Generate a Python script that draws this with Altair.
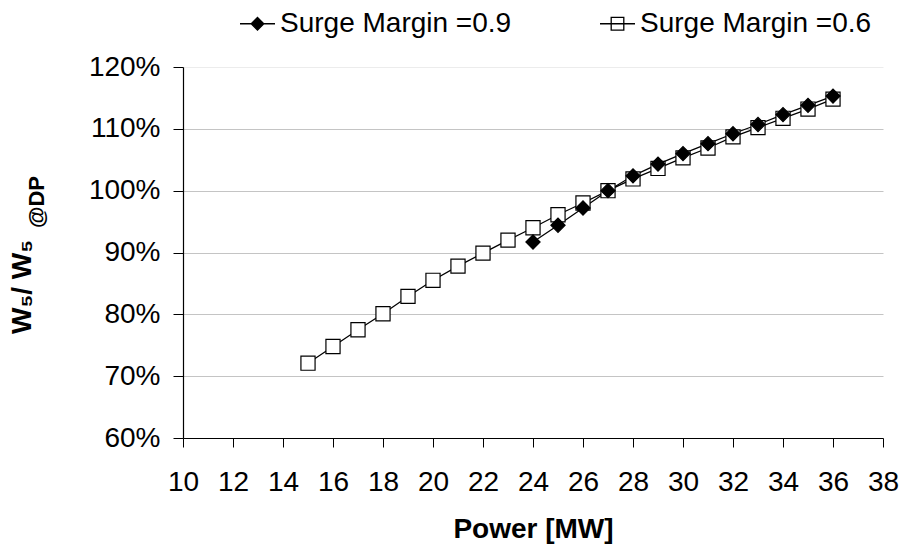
import altair as alt
import pandas as pd

S09 = "Surge Margin =0.9"
S06 = "Surge Margin =0.6"

power_06 = [15, 16, 17, 18, 19, 20, 21, 22, 23, 24, 25, 26, 27, 28, 29, 30, 31, 32, 33, 34, 35, 36]
ratio_06 = [72.1, 74.8, 77.5, 80.1, 82.9, 85.5, 87.8, 89.9, 92.0, 94.0, 96.1, 98.0, 100.0,
            101.9, 103.6, 105.3, 106.9, 108.7, 110.2, 111.7, 113.2, 114.8]

power_09 = [24, 25, 26, 27, 28, 29, 30, 31, 32, 33, 34, 35, 36]
ratio_09 = [91.7, 94.4, 97.2, 100.0, 102.4, 104.3, 106.0, 107.6, 109.2, 110.7, 112.3, 113.8, 115.3]

x_ticks = list(range(10, 39, 2))
y_ticks = list(range(60, 121, 10))

y_title_main = ["W₅/ W₅"]
y_title_sub = ["@DP"]

rows = [{"power": p, "ratio": r, "series": S06, "leg": S06} for p, r in zip(power_06, ratio_06)]
rows += [{"power": p, "ratio": r, "series": S09, "leg": S09} for p, r in zip(power_09, ratio_09)]
df = pd.DataFrame(rows)

FONT = "Liberation Sans"
domain = [S09, S06]

x_enc = alt.X("power:Q", scale=alt.Scale(domain=[10, 38], nice=False, zero=False),
              axis=alt.Axis(values=x_ticks, title="Power [MW]", grid=False, labelFlush=False,
                            labelFontSize=28, titleFontSize=28, titleFontWeight="bold",
                            labelPadding=21, titlePadding=19, tickSize=9))
y_enc = alt.Y("ratio:Q", scale=alt.Scale(domain=[60, 120], nice=False, zero=False),
              axis=alt.Axis(values=y_ticks, title=None, grid=True, labelFlush=False,
                            labelExpr="datum.value + '%'",
                            gridColor={"condition": {"test": "datum.value == 120", "value": "#ececec"},
                                       "value": "#c4c4c4"},
                            labelFontSize=28, labelPadding=13, tickSize=10))

base = alt.Chart(df)

lines = base.mark_line(color="black", strokeWidth=1.25).encode(
    x=x_enc, y=y_enc, detail="series:N"
)

points = base.mark_point(filled=True, size=200, stroke="black", strokeWidth=1.2, opacity=1).encode(
    x=x_enc, y=y_enc,
    shape=alt.Shape("series:N", scale=alt.Scale(domain=domain, range=["diamond", "square"]), legend=None),
    fill=alt.Fill("series:N", scale=alt.Scale(domain=domain, range=["black", "white"]), legend=None),
    order=alt.Order("series:N", sort="ascending"),
)

path_d = "M-1,0H1M0,-0.36L0.36,0L0,0.36L-0.36,0Z"
path_s = "M-1,0H1M-0.36,-0.36H0.36V0.36H-0.36Z"
leg = alt.Legend(title=None, orient="none", legendX=56, legendY=-62, direction="horizontal",
                 labelFontSize=28, labelFont=FONT, labelColor="black", symbolSize=1225,
                 symbolStrokeWidth=1.3, columnPadding=85, labelOffset=4, labelLimit=0,
                 symbolOpacity=1, padding=0)

legend_layer = base.transform_filter("false").mark_point(
    filled=True, size=1225, strokeWidth=1.3
).encode(
    x=x_enc, y=y_enc,
    shape=alt.Shape("leg:N", scale=alt.Scale(domain=domain, range=[path_d, path_s]), legend=leg),
    fill=alt.Fill("leg:N", scale=alt.Scale(domain=domain, range=["black", "white"]), legend=leg),
    stroke=alt.Stroke("leg:N", scale=alt.Scale(domain=domain, range=["black", "black"]), legend=leg),
)

title_main = alt.Chart(pd.DataFrame({"t": y_title_main})).mark_text(
    angle=270, align="left", baseline="alphabetic", font=FONT, fontSize=28,
    fontWeight="bold", color="black"
).encode(text="t:N", x=alt.value(-152), y=alt.value(267))

title_sub = alt.Chart(pd.DataFrame({"t": y_title_sub})).mark_text(
    angle=270, align="left", baseline="alphabetic", font=FONT, fontSize=22,
    fontWeight="bold", color="black"
).encode(text="t:N", x=alt.value(-139), y=alt.value(161))

chart = alt.layer(lines, points, legend_layer, title_main, title_sub).resolve_scale(
    shape="independent", fill="independent", stroke="independent"
).properties(
    width=700, height=371,
    autosize=alt.AutoSizeParams(type="none"),
    padding={"left": 183, "top": 67, "right": 21, "bottom": 110},
    background="white",
).configure_view(stroke=None).configure_axis(
    labelFont=FONT, titleFont=FONT, labelColor="black", titleColor="black",
    domainColor="black", tickColor="black", gridWidth=1,
    domainWidth=1.2, tickWidth=1,
)

chart.save("out.html", embed_options={"renderer": "svg", "actions": False})
